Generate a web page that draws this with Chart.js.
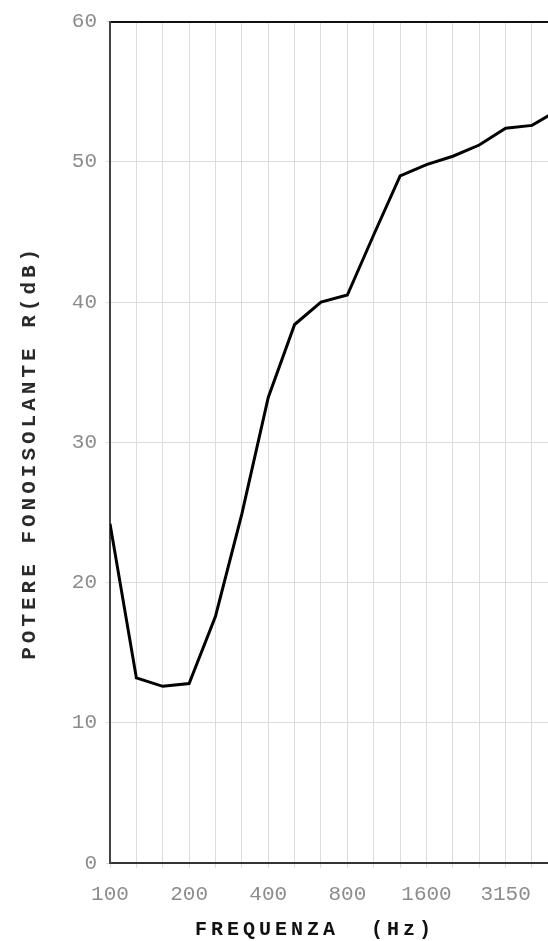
<!DOCTYPE html>
<html>
<head>
<meta charset="utf-8">
<script src="https://cdn.jsdelivr.net/npm/chart.js@4.4.1/dist/chart.umd.min.js"></script>
<style>
  html, body { margin: 0; padding: 0; background: #fff; }
  #wrap { position: relative; width: 548px; height: 941px; overflow: hidden; }
</style>
</head>
<body>
<div id="wrap"><canvas id="chart"></canvas></div>
<script>
// 1/3 octave bands (Hz) and sound reduction index R (dB)
const bandLabels = ['100', '125', '160', '200', '250', '315', '400', '500', '630',
  '800', '1000', '1250', '1600', '2000', '2500', '3150', '4000', '5000'];
const rValues = [24.2, 13.2, 12.6, 12.8, 17.6, 24.9, 33.2, 38.4, 40.0,
  40.5, 44.8, 49.0, 49.8, 50.4, 51.2, 52.4, 52.6, 53.7];
const yTicks = [0, 10, 20, 30, 40, 50, 60];

const yTitle = 'POTERE FONOISOLANTE R(dB)';
const xTitle = 'FREQUENZA  (Hz)';

const gridGray = '#dcdcdc';
const tickGray = '#8c8c8c';

// axis titles drawn by hand so they can be letter-spaced like the original
const axisTitles = {
  id: 'axisTitles',
  afterDraw(chart) {
    const ctx = chart.ctx;
    const area = chart.chartArea;
    ctx.save();
    ctx.letterSpacing = '4px';
    ctx.fillStyle = '#2a2a2a';
    ctx.font = 'bold 21px "Liberation Mono", monospace';
    ctx.textAlign = 'center';
    ctx.textBaseline = 'alphabetic';
    ctx.translate(35, (area.top + area.bottom) / 2 + 10);
    ctx.rotate(-Math.PI / 2);
    ctx.fillText(yTitle, 0, 0);
    ctx.restore();

    ctx.save();
    ctx.letterSpacing = '4px';
    ctx.fillStyle = '#111';
    ctx.font = 'bold 20px "Liberation Mono", monospace';
    ctx.textAlign = 'left';
    ctx.textBaseline = 'alphabetic';
    ctx.fillText(xTitle, area.left + 85, 935);
    ctx.restore();
  }
};

new Chart(document.getElementById('chart'), {
  type: 'line',
  data: {
    datasets: [{
      data: rValues.map((v, i) => ({ x: i, y: v })),
      borderColor: '#000',
      borderWidth: 3,
      pointRadius: 0,
      tension: 0,
      fill: false
    }]
  },
  options: {
    responsive: true,
    maintainAspectRatio: false,
    animation: false,
    layout: { padding: { top: 20, right: 0, left: 0, bottom: 0 } },
    plugins: {
      legend: { display: false },
      tooltip: { enabled: false }
    },
    scales: {
      x: {
        type: 'linear',
        min: 0,
        max: 16.607,
        afterBuildTicks: (scale) => {
          scale.ticks = bandLabels
            .map((b, i) => ({ value: i }))
            .filter(t => t.value <= scale.max);
        },
        afterFit: (scale) => { scale.height = 78; },
        ticks: {
          autoSkip: false,
          maxRotation: 0,
          padding: 14,
          color: tickGray,
          font: { family: '"Liberation Mono", monospace', size: 21 },
          callback: (value) => value % 3 === 0 ? bandLabels[value] : ''
        },
        grid: { color: gridGray, tickLength: 5, tickColor: gridGray },
        border: { color: '#333', width: 2 }
      },
      xTop: {
        type: 'linear',
        position: 'top',
        min: 0,
        max: 16.607,
        afterFit: (scale) => { scale.height = 0; },
        ticks: { display: false },
        grid: { drawOnChartArea: false, drawTicks: false },
        border: { color: '#111', width: 2 }
      },
      y: {
        min: 0,
        max: 60,
        afterBuildTicks: (scale) => {
          scale.ticks = yTicks.map(v => ({ value: v }));
        },
        afterFit: (scale) => { scale.width = 110; },
        ticks: {
          padding: 9,
          color: tickGray,
          font: { family: '"Liberation Mono", monospace', size: 21 }
        },
        grid: { color: gridGray, tickLength: 4, tickColor: gridGray },
        border: { color: '#444', width: 2 }
      }
    }
  },
  plugins: [axisTitles]
});
</script>
</body>
</html>
